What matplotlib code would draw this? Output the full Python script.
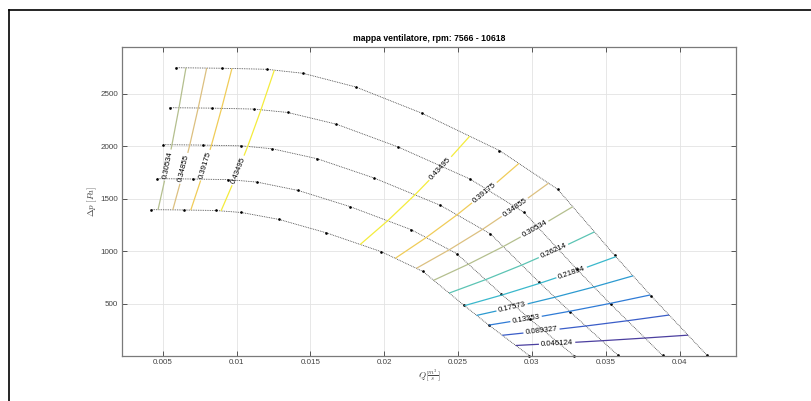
import numpy as np
import matplotlib
matplotlib.use('Agg')
import matplotlib.pyplot as plt
from matplotlib.lines import Line2D
from matplotlib.ticker import FormatStrFormatter

# fan speeds [rpm], one characteristic curve each
rpm = [10618, 9855, 9092, 8329, 7566]

# flow rate Q [m^3/s] on each curve
Q_10618 = [0.00588, 0.00900, 0.01204, 0.01449, 0.01806, 0.02254, 0.02780, 0.03175, 0.03560, 0.03805, 0.04185]
Q_9855 = [0.00546, 0.00835, 0.01117, 0.01345, 0.01676, 0.02092, 0.02580, 0.02947, 0.03304, 0.03532, 0.03884]
Q_9092 = [0.00503, 0.00771, 0.01031, 0.01241, 0.01546, 0.01930, 0.02380, 0.02719, 0.03048, 0.03258, 0.03584]
Q_8329 = [0.00461, 0.00706, 0.00944, 0.01137, 0.01417, 0.01768, 0.02181, 0.02490, 0.02793, 0.02985, 0.03283]
Q_7566 = [0.00419, 0.00641, 0.00858, 0.01033, 0.01287, 0.01606, 0.01981, 0.02262, 0.02537, 0.02711, 0.02982]

# pressure rise dp [Pa] on each curve
dp_10618 = [2747, 2742, 2732, 2694, 2564, 2314, 1958, 1588, 960, 576, 8]
dp_9855 = [2366, 2362, 2353, 2321, 2209, 1993, 1687, 1368, 827, 496, 7]
dp_9092 = [2014, 2010, 2003, 1975, 1880, 1697, 1436, 1164, 704, 422, 6]
dp_8329 = [1690, 1687, 1681, 1658, 1578, 1424, 1205, 977, 591, 354, 5]
dp_7566 = [1395, 1392, 1387, 1368, 1302, 1175, 994, 806, 487, 292, 4]

# efficiency at each operating point (same point index on every curve)
eff = [0.284, 0.380, 0.432, 0.446, 0.478, 0.459, 0.420, 0.335, 0.222, 0.131, 0.0029]

# iso-efficiency levels
levels = [0.046124, 0.089327, 0.13253, 0.17573, 0.21894, 0.26214, 0.30534, 0.34855, 0.39175, 0.43495]

Q = np.array([Q_10618, Q_9855, Q_9092, Q_8329, Q_7566])
DP = np.array([dp_10618, dp_9855, dp_9092, dp_8329, dp_7566])
EFF = np.array([eff] * len(rpm))

plt.rcParams['font.family'] = ['Liberation Sans', 'DejaVu Sans']
plt.rcParams['mathtext.fontset'] = 'cm'

fig = plt.figure(figsize=(8.11, 4.01), dpi=100)
ax = fig.add_axes([0.150, 0.113, 0.758, 0.7705])

ax.grid(True, color='#e3e3e3', lw=0.6)
ax.set_axisbelow(True)

for i in range(len(rpm)):
    ax.plot(Q[i], DP[i], color='#3a3a3a', ls=(0, (1, 1.1)), lw=0.6,
            marker='.', ms=1.8, mfc='k', mec='k', clip_on=False)

line_colors = ['#4b3f9f', '#3a5dc8', '#2f7bd6', '#2c9ad0', '#3ab8cc',
               '#5cc4b4', '#b4bf8e', '#dcc080', '#f0cc58', '#f4ec3c']
cs = ax.contour(Q, DP, EFF, levels=levels, colors=line_colors, linewidths=0.9)

ax.set_xlim(0.00222, 0.04384)
ax.set_ylim(4, 2947)

label_xy = [(0.00527, 1822), (0.00639, 1790), (0.0078, 1822), (0.0100, 1774),
            (0.02377, 1790), (0.0268, 1553), (0.02895, 1394), (0.0302, 1204),
            (0.03139, 1023), (0.03256, 849), (0.02861, 490), (0.02958, 370),
            (0.03064, 246), (0.0317, 126)]
ax.clabel(cs, fmt='%.5g', fontsize=5.6, colors='k', inline=True,
          inline_spacing=2, manual=label_xy)

ax.set_xticks([0.005, 0.01, 0.015, 0.02, 0.025, 0.03, 0.035, 0.04])
ax.set_yticks([500, 1000, 1500, 2000, 2500])
ax.xaxis.set_major_formatter(FormatStrFormatter('%g'))
ax.tick_params(direction='in', top=True, right=True, length=3.5, width=0.7,
               color='#555555', labelsize=5.8, labelcolor='#444444', pad=2.5)
for s in ax.spines.values():
    s.set_color('#7a7a7a')
    s.set_linewidth(0.9)

ax.set_title(f'mappa ventilatore, rpm: {min(rpm)} - {max(rpm)}',
             fontsize=6.2, fontweight='bold', pad=4)
ax.set_xlabel(r'$Q[\frac{m^3}{s}]$', fontsize=6.5, color='#444444', labelpad=1)
ax.set_ylabel(r'$\Delta p\ [Pa]$', fontsize=6.5, color='#444444', labelpad=1)

# outer frame (left and top edges)
fig.add_artist(Line2D([9 / 811, 9 / 811], [0, 1 - 10 / 401], transform=fig.transFigure, color='k', lw=1.2))
fig.add_artist(Line2D([9 / 811, 1], [1 - 10 / 401, 1 - 10 / 401], transform=fig.transFigure, color='k', lw=1.2))

fig.savefig('out.png', dpi=100)
